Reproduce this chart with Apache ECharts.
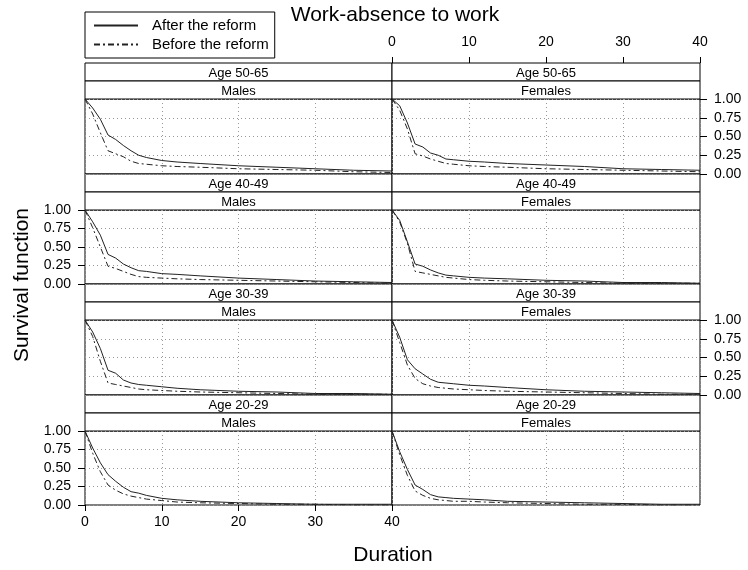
<!DOCTYPE html>
<html>
<head>
<meta charset="utf-8">
<script src="https://cdn.jsdelivr.net/npm/echarts@6/dist/echarts.min.js"></script>
<style>
  html, body { margin: 0; padding: 0; background: #fff; }
  #chart { width: 748px; height: 570px; }
</style>
</head>
<body>
<div id="chart"></div>
<script>
var durations = [0, 1, 2, 3, 4, 5, 6, 7, 8, 10, 12, 15, 20, 25, 30, 35, 40];
var xTicks = [0, 10, 20, 30, 40];
var yTicks = [0, 0.25, 0.5, 0.75, 1];
var ageGroups = ['Age 50-65', 'Age 40-49', 'Age 30-39', 'Age 20-29'];
var sexes = ['Males', 'Females'];
var seriesNames = ['After the reform', 'Before the reform'];

// Age 50-65
var afterMales50 = [1.00, 0.88, 0.73, 0.52, 0.46, 0.38, 0.31, 0.25, 0.22, 0.18, 0.16, 0.14, 0.11, 0.09, 0.07, 0.05, 0.04];
var beforeMales50 = [1.00, 0.80, 0.55, 0.31, 0.27, 0.23, 0.17, 0.14, 0.13, 0.11, 0.10, 0.09, 0.07, 0.06, 0.05, 0.03, 0.02];
var afterFemales50 = [1.00, 0.91, 0.68, 0.40, 0.36, 0.28, 0.25, 0.20, 0.19, 0.17, 0.16, 0.14, 0.12, 0.10, 0.07, 0.06, 0.05];
var beforeFemales50 = [1.00, 0.85, 0.60, 0.27, 0.24, 0.20, 0.17, 0.14, 0.13, 0.11, 0.10, 0.09, 0.07, 0.06, 0.05, 0.04, 0.03];
// Age 40-49
var afterMales40 = [1.00, 0.84, 0.66, 0.40, 0.35, 0.27, 0.22, 0.18, 0.17, 0.14, 0.13, 0.11, 0.08, 0.06, 0.04, 0.03, 0.02];
var beforeMales40 = [1.00, 0.76, 0.50, 0.24, 0.21, 0.17, 0.13, 0.10, 0.09, 0.08, 0.07, 0.06, 0.05, 0.04, 0.03, 0.02, 0.01];
var afterFemales40 = [1.00, 0.86, 0.57, 0.27, 0.24, 0.19, 0.15, 0.12, 0.11, 0.09, 0.08, 0.07, 0.05, 0.04, 0.02, 0.02, 0.01];
var beforeFemales40 = [1.00, 0.84, 0.55, 0.17, 0.15, 0.13, 0.11, 0.09, 0.08, 0.06, 0.05, 0.04, 0.03, 0.02, 0.01, 0.01, 0.01];
// Age 30-39
var afterMales30 = [1.00, 0.84, 0.62, 0.33, 0.29, 0.20, 0.16, 0.14, 0.13, 0.11, 0.09, 0.07, 0.05, 0.04, 0.02, 0.02, 0.01];
var beforeMales30 = [1.00, 0.78, 0.45, 0.16, 0.14, 0.12, 0.10, 0.08, 0.07, 0.06, 0.05, 0.04, 0.03, 0.02, 0.01, 0.01, 0.01];
var afterFemales30 = [1.00, 0.77, 0.47, 0.35, 0.28, 0.21, 0.17, 0.16, 0.15, 0.13, 0.12, 0.10, 0.07, 0.05, 0.04, 0.03, 0.02];
var beforeFemales30 = [1.00, 0.70, 0.40, 0.22, 0.15, 0.12, 0.10, 0.09, 0.08, 0.07, 0.06, 0.05, 0.04, 0.03, 0.02, 0.01, 0.01];
// Age 20-29
var afterMales20 = [1.00, 0.77, 0.57, 0.41, 0.32, 0.24, 0.18, 0.16, 0.13, 0.09, 0.07, 0.05, 0.03, 0.02, 0.01, 0.01, 0.01];
var beforeMales20 = [1.00, 0.70, 0.45, 0.27, 0.20, 0.15, 0.12, 0.10, 0.08, 0.06, 0.04, 0.03, 0.02, 0.01, 0.01, 0.00, 0.00];
var afterFemales20 = [1.00, 0.72, 0.48, 0.27, 0.21, 0.14, 0.11, 0.10, 0.09, 0.08, 0.07, 0.05, 0.04, 0.03, 0.02, 0.01, 0.01];
var beforeFemales20 = [1.00, 0.68, 0.40, 0.19, 0.13, 0.09, 0.07, 0.06, 0.05, 0.05, 0.04, 0.03, 0.02, 0.01, 0.01, 0.00, 0.00];

// [row][column] -> [after, before]
var curves = [
    [[afterMales50, beforeMales50], [afterFemales50, beforeFemales50]],
    [[afterMales40, beforeMales40], [afterFemales40, beforeFemales40]],
    [[afterMales30, beforeMales30], [afterFemales30, beforeFemales30]],
    [[afterMales20, beforeMales20], [afterFemales20, beforeFemales20]]
];

var FONT = 'Liberation Sans, Arial, sans-serif';
var rowTops = [63, 174, 284, 395];
var plotBottoms = [174, 284, 395, 505];
var colLefts = [85, 392];
var colWidths = [307, 308];
var STRIP = 18;

function gridLine() {
    return { show: true, lineStyle: { color: '#999', width: 1, type: [1, 3] } };
}
function yLabel(v) { return v.toFixed(2); }

var grids = [], xAxes = [], yAxes = [], series = [], graphics = [];

for (var r = 0; r < 4; r++) {
    for (var c = 0; c < 2; c++) {
        var idx = r * 2 + c;
        var plotTop = rowTops[r] + STRIP * 2;
        grids.push({
            left: colLefts[c], top: plotTop, width: colWidths[c], height: plotBottoms[r] - plotTop,
            show: true, borderColor: '#000', borderWidth: 1
        });
        var bottomAxis = (r === 3 && c === 0);
        xAxes.push({
            type: 'value', gridIndex: idx, min: xTicks[0], max: xTicks[xTicks.length - 1], interval: 10,
            position: 'bottom',
            axisLine: { show: false, onZero: false },
            axisTick: { show: bottomAxis, length: 6, lineStyle: { color: '#000' } },
            axisLabel: { show: bottomAxis, margin: 10, fontSize: 14, color: '#000', fontFamily: FONT },
            splitLine: gridLine()
        });
        var labelled = (r % 2 === 0) ? (c === 1) : (c === 0);
        yAxes.push({
            type: 'value', gridIndex: idx, min: yTicks[0], max: yTicks[yTicks.length - 1], interval: 0.25,
            position: c === 1 ? 'right' : 'left',
            axisLine: { show: false, onZero: false },
            axisTick: { show: labelled, length: 7, lineStyle: { color: '#000' } },
            axisLabel: { show: labelled, margin: 14, fontSize: 14, color: '#000', fontFamily: FONT, formatter: yLabel },
            splitLine: gridLine()
        });
        var pair = curves[r][c];
        for (var s = 0; s < 2; s++) {
            var pts = [];
            for (var i = 0; i < durations.length; i++) pts.push([durations[i], pair[s][i]]);
            series.push({
                name: seriesNames[s], type: 'line', xAxisIndex: idx, yAxisIndex: idx,
                symbol: 'none',
                data: pts,
                lineStyle: { color: '#222', width: 1, type: s === 0 ? 'solid' : [6, 3, 2, 3] },
                itemStyle: { color: '#222' }
            });
        }
        var labels = [ageGroups[r], sexes[c]];
        for (var k = 0; k < 2; k++) {
            var y0 = rowTops[r] + STRIP * k;
            graphics.push({
                type: 'rect',
                shape: { x: colLefts[c], y: y0, width: colWidths[c], height: STRIP },
                style: { fill: '#fff', stroke: '#000', lineWidth: 1 }
            });
            graphics.push({
                type: 'text',
                x: colLefts[c] + colWidths[c] / 2, y: y0 + STRIP / 2 + 1,
                style: { text: labels[k], fontSize: 13, fontFamily: FONT, fill: '#000', align: 'center', verticalAlign: 'middle' }
            });
        }
    }
}

// top axis on the upper right panel
xAxes.push({
    type: 'value', gridIndex: 1, min: xTicks[0], max: xTicks[xTicks.length - 1], interval: 10,
    position: 'top', offset: STRIP * 2,
    axisLine: { show: false, onZero: false },
    axisTick: { show: true, length: 6, lineStyle: { color: '#000' } },
    axisLabel: { show: true, margin: 14, fontSize: 14, color: '#000', fontFamily: FONT },
    splitLine: { show: false }
});

graphics.push({
    type: 'text', x: 395, y: 15,
    style: { text: 'Work-absence to work', fontSize: 21, fontFamily: FONT, fill: '#000', align: 'center', verticalAlign: 'middle' }
});
graphics.push({
    type: 'text', x: 393, y: 555,
    style: { text: 'Duration', fontSize: 21, fontFamily: FONT, fill: '#000', align: 'center', verticalAlign: 'middle' }
});
graphics.push({
    type: 'text', x: 22, y: 285, rotation: Math.PI / 2,
    style: { text: 'Survival function', fontSize: 21, fontFamily: FONT, fill: '#000', align: 'center', verticalAlign: 'middle' }
});

var myChart = echarts.init(document.getElementById('chart'));

var option = {
    backgroundColor: '#fff',
    animation: false,
    legend: {
        data: seriesNames,
        orient: 'vertical',
        left: 85, top: 12,
        padding: [6, 6, 6, 8],
        itemGap: 4,
        itemWidth: 44, itemHeight: 14,
        borderColor: '#000', borderWidth: 1,
        selectedMode: false,
        itemStyle: { opacity: 0 },
        textStyle: { fontSize: 15, fontFamily: FONT, color: '#000', padding: [0, 0, 0, 9] }
    },
    grid: grids,
    xAxis: xAxes,
    yAxis: yAxes,
    series: series,
    graphic: { elements: graphics }
};

myChart.setOption(option);
</script>
</body>
</html>
